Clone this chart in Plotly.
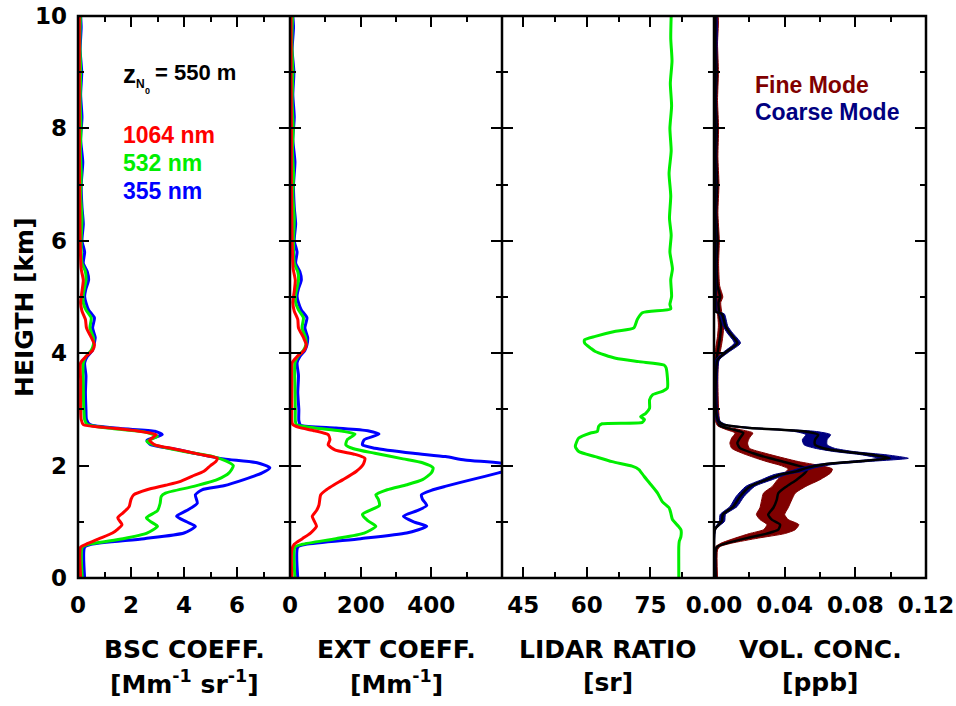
import plotly.graph_objects as go

# ---------------- DATA ----------------
# Panel 1: backscatter coefficient [Mm-1 sr-1]
bsc355_h = [0, 0.55, 0.6, 0.7, 0.8, 0.92, 1.0, 1.1, 1.2, 1.33, 1.48, 1.57, 1.64, 1.75, 1.87, 1.96, 2.05, 2.12, 2.2, 2.3,
            2.37, 2.45, 2.55, 2.61, 2.66, 2.73, 2.82, 3.0, 3.3, 3.6, 3.83, 3.94, 4.05, 4.15, 4.28, 4.45, 4.63, 4.77, 4.9,
            5.01, 5.15, 5.3, 5.45, 5.6, 5.8, 6.0, 6.3, 6.6, 7.0, 7.4, 7.8, 8.2, 8.6, 9.0, 9.4, 9.8, 10.0]
bsc355 = [0.25, 0.25, 0.5, 2.5, 4.0, 4.43, 4.1, 3.72, 4.1, 4.5, 4.43, 4.68, 5.5, 6.26, 6.95, 7.24, 6.76, 5.5, 4.6, 3.6,
          2.74, 2.6, 3.18, 2.9, 1.6, 0.45, 0.32, 0.3, 0.28, 0.3, 0.25, 0.35, 0.55, 0.6, 0.65, 0.55, 0.62, 0.4, 0.3,
          0.25, 0.3, 0.4, 0.35, 0.2, 0.25, 0.15, 0.2, 0.15, 0.12, 0.18, 0.1, 0.15, 0.1, 0.14, 0.08, 0.12, 0.1]

bsc532_h = [0, 0.55, 0.6, 0.7, 0.8, 0.92, 1.0, 1.07, 1.2, 1.33, 1.45, 1.51, 1.63, 1.75, 1.87, 2.0, 2.08, 2.16, 2.25,
            2.37, 2.43, 2.52, 2.6, 2.66, 2.73, 2.82, 3.0, 3.4, 3.83, 3.94, 4.05, 4.15, 4.28, 4.45, 4.63, 4.77, 4.9,
            5.05, 5.3, 5.45, 5.6, 6.0, 6.4, 6.8, 7.2, 7.6, 8.0, 8.5, 9.0, 9.5, 10.0]
bsc532 = [0.16, 0.16, 0.4, 1.7, 2.6, 3.0, 2.75, 2.58, 3.0, 3.1, 3.14, 3.3, 4.37, 5.25, 5.7, 5.86, 5.6, 5.1, 4.0,
          2.87, 2.6, 3.0, 2.5, 1.3, 0.35, 0.25, 0.22, 0.2, 0.2, 0.3, 0.5, 0.58, 0.58, 0.45, 0.5, 0.3, 0.2,
          0.2, 0.3, 0.28, 0.15, 0.12, 0.15, 0.1, 0.12, 0.09, 0.11, 0.08, 0.1, 0.07, 0.09]

bsc1064_h = [0, 0.55, 0.6, 0.7, 0.8, 0.86, 0.95, 1.07, 1.16, 1.27, 1.4, 1.48, 1.57, 1.65, 1.72, 1.81, 1.9, 2.0, 2.07,
             2.13, 2.2, 2.3, 2.37, 2.45, 2.55, 2.62, 2.68, 2.73, 2.82, 3.0, 3.5, 3.83, 3.94, 4.05, 4.15, 4.28, 4.45,
             4.6, 4.75, 4.9, 5.1, 5.3, 5.5, 6.0, 6.5, 7.0, 8.0, 9.0, 10.0]
bsc1064 = [0.1, 0.1, 0.3, 0.8, 1.3, 1.48, 1.66, 1.5, 1.7, 1.93, 2.0, 2.1, 2.6, 3.3, 3.87, 4.3, 4.75, 5.0, 5.2,
           5.25, 4.6, 3.6, 2.9, 2.7, 2.95, 2.2, 1.0, 0.2, 0.12, 0.1, 0.1, 0.1, 0.3, 0.55, 0.62, 0.5, 0.32,
           0.28, 0.15, 0.1, 0.15, 0.2, 0.12, 0.08, 0.07, 0.06, 0.05, 0.05, 0.05]

# Panel 2: extinction coefficient [Mm-1]
ext355_h = [0, 0.55, 0.6, 0.7, 0.8, 0.92, 1.0, 1.1, 1.2, 1.29, 1.4, 1.48, 1.56, 1.63, 1.75, 1.87, 1.96, 2.03, 2.1,
            2.16, 2.22, 2.31, 2.37, 2.46, 2.56, 2.62, 2.67, 2.72, 2.8, 3.0, 3.3, 3.6, 3.83, 3.94, 4.05, 4.15, 4.28,
            4.45, 4.63, 4.77, 4.9, 5.01, 5.15, 5.3, 5.45, 5.6, 5.8, 6.0, 6.3, 6.6, 7.0, 7.4, 7.8, 8.2, 8.6, 9.0,
            9.4, 9.8, 10.0]
ext355 = [22, 22, 45, 200, 330, 387, 350, 321, 360, 387, 375, 372, 400, 439, 514, 590, 640, 615, 495,
          440, 349, 240, 205, 210, 252, 220, 130, 30, 25, 25, 22, 24, 20, 28, 42, 48, 50,
          42, 48, 32, 24, 20, 24, 32, 28, 16, 20, 12, 16, 12, 10, 14, 8, 12, 8, 11,
          6, 10, 8]

ext532_h = [0, 0.55, 0.6, 0.7, 0.8, 0.92, 1.02, 1.13, 1.29, 1.4, 1.48, 1.57, 1.66, 1.75, 1.87, 1.96, 2.05, 2.12,
            2.22, 2.3, 2.37, 2.46, 2.56, 2.62, 2.67, 2.73, 2.8, 3.0, 3.4, 3.83, 3.94, 4.05, 4.15, 4.28, 4.45,
            4.63, 4.77, 4.9, 5.05, 5.3, 5.45, 5.6, 6.0, 6.4, 6.8, 7.2, 7.6, 8.0, 8.5, 9.0, 9.5, 10.0]
ext532 = [14, 14, 35, 130, 210, 243, 220, 205, 253, 250, 243, 275, 331, 375, 400, 405, 375, 320,
          240, 180, 158, 162, 184, 140, 70, 18, 15, 15, 14, 14, 22, 38, 45, 44, 34,
          38, 24, 16, 16, 24, 22, 12, 10, 12, 8, 10, 7, 9, 6, 8, 5, 7]

ext1064_h = [0, 0.5, 0.6, 0.7, 0.8, 0.92, 1.02, 1.1, 1.2, 1.3, 1.48, 1.57, 1.66, 1.75, 1.9, 2.02, 2.13, 2.2, 2.28,
             2.37, 2.46, 2.55, 2.62, 2.68, 2.73, 2.8, 3.0, 3.5, 3.83, 3.94, 4.05, 4.15, 4.28, 4.45, 4.6, 4.75,
             4.9, 5.1, 5.3, 5.5, 6.0, 6.5, 7.0, 8.0, 9.0, 10.0]
ext1064 = [5, 5, 12, 35, 58, 75, 68, 63, 75, 82, 87, 103, 125, 150, 188, 207, 212, 184, 127,
           108, 113, 108, 70, 25, 8, 5, 5, 5, 6, 20, 40, 46, 38, 24, 22, 12,
           8, 12, 15, 9, 6, 5, 4, 4, 3, 3]

# Panel 3: lidar ratio [sr] at 532 nm
lr_h = [0, 0.56, 0.65, 0.74, 0.86, 0.92, 1.04, 1.16, 1.25, 1.36, 1.51, 1.69, 1.81, 1.93, 1.99, 2.07, 2.16, 2.25,
        2.34, 2.49, 2.58, 2.61, 2.7, 2.745, 2.77, 2.82, 2.87, 2.93, 3.02, 3.17, 3.26, 3.32, 3.38, 3.74, 3.79,
        3.85, 3.91, 4.03, 4.09, 4.18, 4.24, 4.3, 4.39, 4.45, 4.6, 4.72, 4.79, 4.87, 5.01, 5.31, 5.5, 5.8, 6.1,
        6.4, 6.8, 7.2, 7.6, 8.0, 8.4, 8.8, 9.2, 9.6, 10.0]
lr = [81.7, 81.7, 81.8, 82.2, 82.2, 81.6, 80.2, 79.8, 79.4, 77.8, 76.7, 74.8, 73.5, 72.3, 70.7, 66.0, 62.0, 58.1,
      57.3, 58.1, 60.9, 62.5, 62.8, 63.6, 73.1, 73.6, 72.7, 73.9, 74.8, 74.8, 75.5, 77.8, 79.0, 78.7, 78.2,
      72.3, 66.8, 62.0, 60.9, 59.5, 59.5, 62.0, 66.8, 71.1, 71.9, 73.1, 79.8, 79.6, 80.0, 79.8, 80.2, 79.6, 79.9,
      79.5, 79.8, 79.4, 79.9, 79.6, 80.0, 79.7, 80.1, 79.8, 79.9]

# Panel 4: volume concentration [ppb]
fine_h = [0, 0.5, 0.56, 0.62, 0.71, 0.79, 0.86, 0.95, 1.04, 1.13, 1.25, 1.39, 1.51, 1.63, 1.75, 1.87, 1.94, 2.0,
          2.07, 2.13, 2.22, 2.31, 2.4, 2.49, 2.58, 2.64, 2.71, 2.8, 3.0, 3.5, 3.9, 4.1, 4.3, 4.5, 4.7, 4.9, 5.0,
          5.2, 5.6, 6.0, 6.5, 7.0, 7.5, 8.0, 8.5, 9.0, 9.5, 10.0]
fine_mid = [0.001, 0.001, 0.002, 0.0072, 0.0185, 0.0298, 0.0364, 0.0374, 0.0327, 0.0307, 0.0336, 0.0355, 0.0364,
            0.0411, 0.0468, 0.0515, 0.0528, 0.0475, 0.0392, 0.0317, 0.0222, 0.0147, 0.0132, 0.0147, 0.0166, 0.0109,
            0.0034, 0.002, 0.0015, 0.0012, 0.0015, 0.0025, 0.0035, 0.004, 0.003, 0.0025, 0.0035, 0.002, 0.0015,
            0.002, 0.0012, 0.0018, 0.0012, 0.0016, 0.001, 0.0015, 0.001, 0.0012]
fine_lo = [0.0003, 0.0003, 0.001, 0.004, 0.012, 0.02, 0.028, 0.030, 0.026, 0.024, 0.026, 0.027, 0.028,
           0.033, 0.036, 0.040, 0.042, 0.038, 0.030, 0.024, 0.016, 0.010, 0.009, 0.010, 0.012, 0.007,
           0.002, 0.0008, 0.0006, 0.0005, 0.0006, 0.001, 0.002, 0.0025, 0.002, 0.0012, 0.002, 0.001, 0.0006,
           0.0008, 0.0005, 0.0008, 0.0005, 0.0007, 0.0004, 0.0006, 0.0004, 0.0005]
fine_hi = [0.002, 0.002, 0.0035, 0.010, 0.025, 0.040, 0.046, 0.048, 0.042, 0.040, 0.042, 0.044, 0.046,
           0.052, 0.060, 0.066, 0.067, 0.060, 0.048, 0.040, 0.029, 0.020, 0.019, 0.020, 0.022, 0.015,
           0.005, 0.0032, 0.0026, 0.0022, 0.0026, 0.004, 0.005, 0.0055, 0.0045, 0.0038, 0.005, 0.0032, 0.0026,
           0.003, 0.0022, 0.0028, 0.0022, 0.0026, 0.002, 0.0025, 0.002, 0.0022]

coarse_h = [0, 0.86, 1.01, 1.13, 1.27, 1.45, 1.63, 1.75, 1.84, 1.9, 1.96, 2.02, 2.07, 2.13, 2.19, 2.25, 2.31, 2.37,
            2.46, 2.55, 2.61, 2.67, 2.73, 2.79, 3.0, 3.5, 3.88, 4.03, 4.18, 4.36, 4.48, 4.7, 4.74, 5.0, 6.0, 7.0,
            8.0, 9.0, 10.0]
coarse_mid = [0.0005, 0.0005, 0.0044, 0.005, 0.0109, 0.0147, 0.0204, 0.0298, 0.0374, 0.0468, 0.0525, 0.0619, 0.0789,
              0.0996, 0.0902, 0.0732, 0.0619, 0.0572, 0.0572, 0.059, 0.0505, 0.0204, 0.0053, 0.0025, 0.001, 0.001,
              0.002, 0.0072, 0.0132, 0.009, 0.0065, 0.0044, 0.001, 0.0008, 0.0008, 0.0008, 0.0008, 0.0008, 0.0008]
coarse_lo = [0.0, 0.0, 0.003, 0.0035, 0.009, 0.0125, 0.018, 0.027, 0.034, 0.043, 0.049, 0.058, 0.074, 0.093, 0.084,
             0.068, 0.057, 0.051, 0.050, 0.052, 0.045, 0.017, 0.004, 0.0015, 0.0005, 0.0005, 0.001, 0.0058,
             0.0115, 0.0075, 0.0052, 0.003, 0.0003, 0.0002, 0.0002, 0.0002, 0.0002, 0.0002, 0.0002]
coarse_hi = [0.001, 0.001, 0.006, 0.0065, 0.013, 0.017, 0.023, 0.033, 0.041, 0.051, 0.057, 0.067, 0.086, 0.110,
             0.098, 0.079, 0.068, 0.064, 0.064, 0.066, 0.057, 0.024, 0.007, 0.0035, 0.0018, 0.0018, 0.003, 0.0088,
             0.015, 0.0105, 0.0078, 0.0058, 0.002, 0.0015, 0.0014, 0.0014, 0.0014, 0.0014, 0.0014]

# Axis ticks
y_ticks = [0, 2, 4, 6, 8, 10]
y_minor = [1, 3, 5, 7, 9]
x1_ticks, x1_minor = [0, 2, 4, 6], [1, 3, 5, 7]
x2_ticks, x2_minor = [0, 200, 400], [100, 300, 500]
x3_ticks, x3_minor = [45, 60, 75], [52.5, 67.5, 82.5]
x4_ticks, x4_minor = [0, 0.04, 0.08, 0.12], [0.02, 0.06, 0.10]
x4_labels = ["0.00", "0.04", "0.08", "0.12"]

titles_l1 = ["BSC COEFF.", "EXT COEFF.", "LIDAR RATIO", "VOL. CONC."]
titles_l2 = ["[Mm<sup>-1</sup> sr<sup>-1</sup>]", "[Mm<sup>-1</sup>]", "[sr]", "[ppb]"]

# ---------------- FIGURE ----------------
WIDE = "DejaVu Sans, sans-serif"
ARIAL = "Liberation Sans, Arial, sans-serif"
RED, GREEN, BLUE = "#FF0000", "#00EE00", "#0000FF"
FINE, COARSE = "#800000", "#000080"
LW = 3

fig = go.Figure()


def line(x, y, color, ax, width=LW, shape="spline"):
    fig.add_trace(go.Scatter(x=x, y=y, mode="lines", line=dict(color=color, width=width, shape=shape,
                                                               smoothing=0.6),
                             xaxis=ax[0], yaxis=ax[1], showlegend=False, hoverinfo="skip"))


def band(lo, hi, h, color, ax):
    xs = list(hi) + list(lo)[::-1]
    ys = list(h) + list(h)[::-1]
    fig.add_trace(go.Scatter(x=xs, y=ys, mode="lines", fill="toself", fillcolor=color,
                             line=dict(color=color, width=1, shape="spline", smoothing=0.6),
                             xaxis=ax[0], yaxis=ax[1], showlegend=False, hoverinfo="skip"))


A1, A2, A3, A4 = ("x", "y"), ("x2", "y2"), ("x3", "y3"), ("x4", "y4")
line(bsc355, bsc355_h, BLUE, A1)
line(bsc532, bsc532_h, GREEN, A1)
line(bsc1064, bsc1064_h, RED, A1)
line(ext355, ext355_h, BLUE, A2)
line(ext532, ext532_h, GREEN, A2)
line(ext1064, ext1064_h, RED, A2)
line(lr, lr_h, GREEN, A3)
band(fine_lo, fine_hi, fine_h, FINE, A4)
line(fine_mid, fine_h, "black", A4, width=2.5)
band(coarse_lo, coarse_hi, coarse_h, COARSE, A4)
line(coarse_mid, coarse_h, "black", A4, width=2.5)

tickfont = dict(family=WIDE, size=23, color="black", weight="bold")


def xaxis(dom, rng, tv, mv, tt=None):
    d = dict(domain=dom, range=rng, tickmode="array", tickvals=tv, showline=False,
             mirror="ticks", ticks="inside", ticklen=11, tickwidth=2, tickcolor="black",
             showgrid=False, zeroline=False, tickfont=tickfont, ticklabelstandoff=11, automargin=False,
             ticklabeloverflow="allow",
             minor=dict(tickmode="array", tickvals=mv, ticks="inside", ticklen=6, tickwidth=2,
                        tickcolor="black", showgrid=False))
    if tt is not None:
        d["ticktext"] = tt
    return d


def yaxis(anchor, labels):
    return dict(anchor=anchor, range=[0, 10], tickmode="array", tickvals=y_ticks, showline=False,
                mirror="ticks", ticks="inside", ticklen=11, tickwidth=2, automargin=False,
                ticklabeloverflow="allow",
                tickcolor="black", showgrid=False, zeroline=False, tickfont=tickfont, showticklabels=labels,
                ticklabelstandoff=10,
                minor=dict(tickmode="array", tickvals=y_minor, ticks="inside", ticklen=6, tickwidth=2,
                           tickcolor="black", showgrid=False))


# figure fills the whole window (page margin removed below)
L, R, T, B = 78, 30, 16, 128
W, H = 956, 706
PW, PH = W - L - R, H - T - B


def px(x):
    return (x - L) / PW


def py(y):
    return (H - B - y) / PH


frame = [dict(type="rect", xref="paper", yref="paper", x0=0, x1=1, y0=0, y1=1,
              line=dict(color="black", width=2.5), layer="above")]
for xb in (0.25, 0.5, 0.75):
    frame.append(dict(type="line", xref="paper", yref="paper", x0=xb, x1=xb, y0=0, y1=1,
                      line=dict(color="black", width=2.5), layer="above"))

fig.update_layout(
    width=W, height=H, margin=dict(l=L, r=R, t=T, b=B, autoexpand=False), plot_bgcolor="white",
    paper_bgcolor="white",
    font=dict(family=ARIAL, color="black"),
    xaxis=xaxis([0, 0.25], [0, 8], x1_ticks, x1_minor),
    xaxis2=dict(xaxis([0.25, 0.5], [0, 600], x2_ticks, x2_minor), anchor="y2"),
    xaxis3=dict(xaxis([0.5, 0.75], [40, 90], x3_ticks, x3_minor), anchor="y3"),
    xaxis4=dict(xaxis([0.75, 1.0], [0, 0.12], x4_ticks, x4_minor, x4_labels), anchor="y4"),
    yaxis=yaxis("x", True),
    yaxis2=yaxis("x2", False),
    yaxis3=yaxis("x3", False),
    yaxis4=yaxis("x4", False),
    shapes=frame,
)

ann = []
centers = [184, 396, 608, 820]
tfont = dict(family=WIDE, size=25, color="black", weight="bold")
for c, t1, t2 in zip(centers, titles_l1, titles_l2):
    ann.append(dict(x=px(c), y=py(649), xref="paper", yref="paper", text=t1, showarrow=False,
                    xanchor="center", yanchor="middle", font=tfont))
    ann.append(dict(x=px(c), y=py(682), xref="paper", yref="paper", text=t2, showarrow=False,
                    xanchor="center", yanchor="middle", font=tfont))

ann.append(dict(x=px(24), y=py(307), xref="paper", yref="paper", text="HEIGTH [km]", textangle=-90,
                showarrow=False, xanchor="center", yanchor="middle", font=tfont))

# z_N0 label
ann.append(dict(x=px(121), y=py(74), xref="paper", yref="paper", text="z", showarrow=False,
                xanchor="left", yanchor="middle", font=dict(family=ARIAL, size=26, color="black", weight="bold")))
ann.append(dict(x=px(134), y=py(84), xref="paper", yref="paper", text="N", showarrow=False,
                xanchor="left", yanchor="middle", font=dict(family=ARIAL, size=12, color="black", weight="bold")))
ann.append(dict(x=px(142.5), y=py(91), xref="paper", yref="paper", text="0", showarrow=False,
                xanchor="left", yanchor="middle", font=dict(family=ARIAL, size=9, color="black", weight="bold")))
ann.append(dict(x=px(153), y=py(73), xref="paper", yref="paper", text="= 550 m", showarrow=False,
                xanchor="left", yanchor="middle", font=dict(family=ARIAL, size=22, color="black", weight="bold")))

for txt, col, yy in [("1064 nm", RED, 135), ("532 nm", GREEN, 163), ("355 nm", BLUE, 191)]:
    ann.append(dict(x=px(121), y=py(yy), xref="paper", yref="paper", text=txt, showarrow=False,
                    xanchor="left", yanchor="middle",
                    font=dict(family=ARIAL, size=23, color=col, weight="bold")))
for txt, col, yy in [("Fine Mode", FINE, 85), ("Coarse Mode", COARSE, 112)]:
    ann.append(dict(x=px(753), y=py(yy), xref="paper", yref="paper", text=txt, showarrow=False,
                    xanchor="left", yanchor="middle",
                    font=dict(family=ARIAL, size=23, color=col, weight="bold")))

fig.update_layout(annotations=ann)
fig.write_html("out.html", config={"displayModeBar": False},
               post_script="document.body.style.margin='0px';document.body.style.overflow='hidden';")
